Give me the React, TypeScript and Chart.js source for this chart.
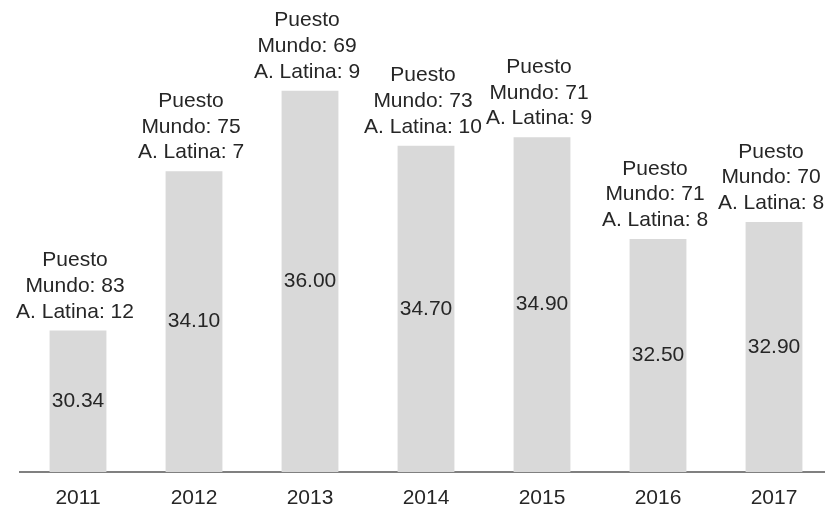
import React, { useEffect, useRef } from "react";
import { Chart, registerables } from "chart.js";

Chart.register(...registerables);

const years = ["2011", "2012", "2013", "2014", "2015", "2016", "2017"];
const scores = [30.34, 34.1, 36.0, 34.7, 34.9, 32.5, 32.9];
const worldRank = [83, 75, 69, 73, 71, 71, 70];
const latamRank = [12, 7, 9, 10, 9, 8, 8];

const FONT = "'Liberation Sans', Arial, sans-serif";
const TEXT = "#262626";

const labelPlugin = {
  id: "barLabels",
  afterDatasetsDraw(chart: any) {
    const ctx = chart.ctx;
    const meta = chart.getDatasetMeta(0);
    const bottom = chart.chartArea.bottom;
    ctx.save();
    ctx.fillStyle = TEXT;
    ctx.font = `21px ${FONT}`;
    ctx.textAlign = "center";
    meta.data.forEach((bar: any, i: number) => {
      const p = bar.getProps(["x", "y"], true);
      const x = p.x;
      const top = p.y;
      ctx.textBaseline = "middle";
      ctx.fillText(scores[i].toFixed(2), x, (top + bottom) / 2);
      ctx.textBaseline = "alphabetic";
      const lines = ["Puesto", `Mundo: ${worldRank[i]}`, `A. Latina: ${latamRank[i]}`];
      const lh = 25.7;
      const last = top - 13;
      lines.forEach((t, j) => {
        ctx.fillText(t, x - 3, last - (lines.length - 1 - j) * lh);
      });
    });
    ctx.restore();
  },
};

export default function App() {
  const ref = useRef<HTMLCanvasElement | null>(null);
  useEffect(() => {
    if (!ref.current) return;
    const chart = new Chart(ref.current, {
      type: "bar",
      data: {
        labels: years,
        datasets: [
          {
            data: scores,
            backgroundColor: "#d9d9d9",
            borderWidth: 0,
            barPercentage: 0.49,
            categoryPercentage: 1,
          },
        ],
      },
      options: {
        responsive: false,
        animation: false,
        layout: { padding: { left: 20, right: 8, top: 6, bottom: 0 } },
        plugins: { legend: { display: false }, tooltip: { enabled: false } },
        scales: {
          x: {
            grid: { display: false, drawTicks: false },
            border: { display: true, color: "#808080", width: 2 },
            ticks: {
              color: TEXT,
              font: { family: FONT, size: 21 },
              padding: 14,
              maxRotation: 0,
            },
            afterFit(scale: any) {
              scale.height = 37;
            },
          },
          y: {
            display: false,
            min: 27,
            max: 38,
          },
        },
      },
      plugins: [labelPlugin],
    });
    return () => chart.destroy();
  }, []);
  return (
    <div
      style={{
        position: "fixed",
        left: 0,
        top: 0,
        width: 825,
        height: 509,
        overflow: "hidden",
        background: "#fff",
      }}
    >
      <canvas ref={ref} width={840} height={509} style={{ display: "block" }} />
    </div>
  );
}
